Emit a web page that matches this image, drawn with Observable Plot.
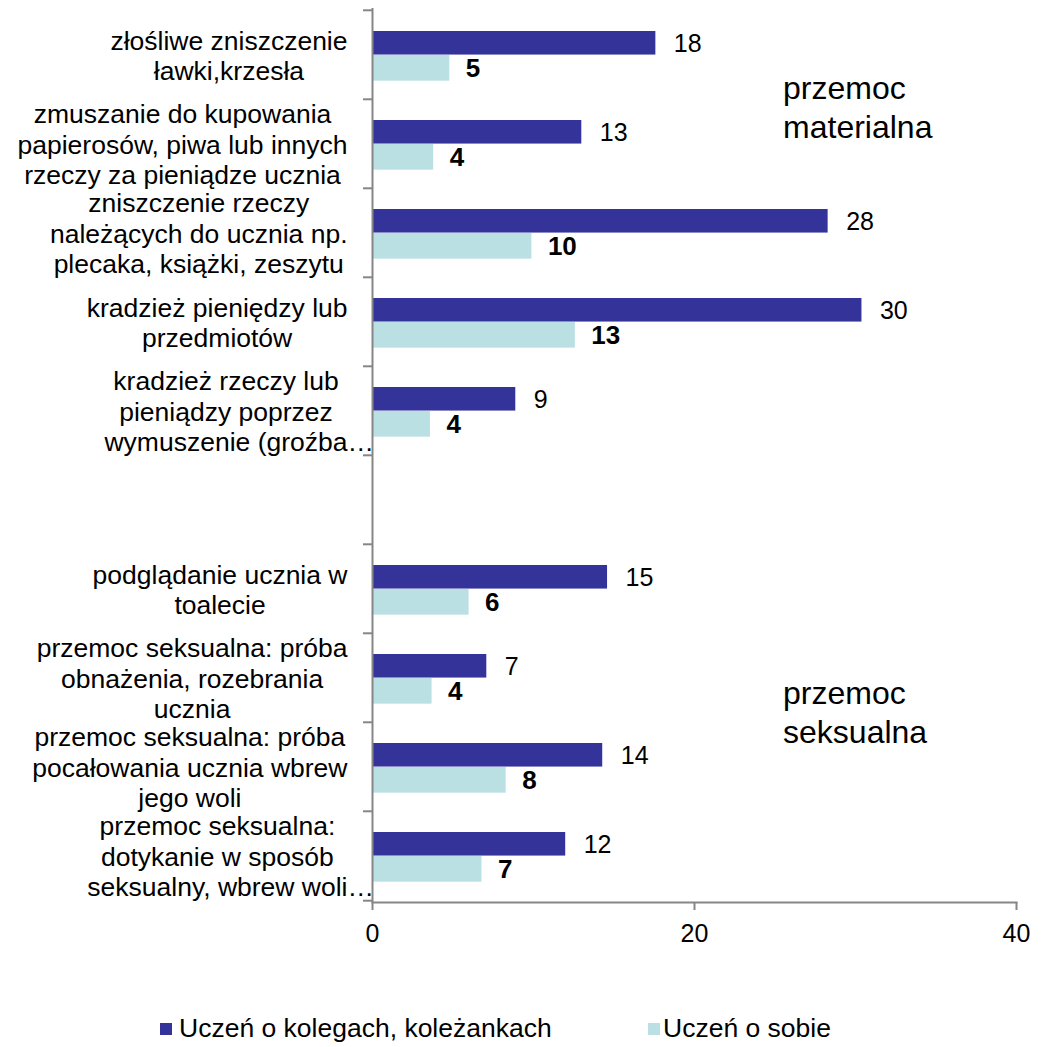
<!DOCTYPE html>
<html><head><meta charset="utf-8">
<script src="https://cdn.jsdelivr.net/npm/d3@7"></script>
<script src="https://cdn.jsdelivr.net/npm/@observablehq/plot@0.6"></script>
<style>
body{margin:0;background:#fff;font-family:"Liberation Sans",Arial,sans-serif;}
#wrap{position:relative;width:1048px;height:1047px;}
#legend{position:absolute;left:0;top:1013px;width:1048px;height:32px;font-size:26.5px;color:#000;}
.item{position:absolute;top:0;display:flex;align-items:center;white-space:nowrap;}
.sw{width:12px;height:12px;margin-right:7px;}
</style></head><body>
<div id="wrap"><div id="chart"></div><div id="legend"></div></div>
<script>
const categories = [
  "złośliwe zniszczenie\nławki,krzesła",
  "zmuszanie do kupowania\npapierosów, piwa lub innych\nrzeczy za pieniądze ucznia",
  "zniszczenie rzeczy\nnależących do ucznia np.\nplecaka, książki, zeszytu",
  "kradzież pieniędzy lub\nprzedmiotów",
  "kradzież rzeczy lub\npieniądzy poprzez\nwymuszenie (groźba…",
  " ",
  "podglądanie ucznia w\ntoalecie",
  "przemoc seksualna: próba\nobnażenia, rozebrania\nucznia",
  "przemoc seksualna: próba\npocałowania ucznia wbrew\njego woli",
  "przemoc seksualna:\ndotykanie w sposób\nseksualny, wbrew woli…"
];
const seriesNames = ["Uczeń o kolegach, koleżankach", "Uczeń o sobie"];
const colleagues = [17.6, 13.0, 28.3, 30.4, 8.9, null, 14.6, 7.1, 14.3, 12.0];
const self = [4.8, 3.8, 9.9, 12.6, 3.6, null, 6.0, 3.7, 8.3, 6.8];
const xTicks = [0, 20, 40];
const annotations = ["przemoc\nmaterialna", "przemoc\nseksualna"];
const annX = [25.5, 25.5];
const annY = [categories[1], categories[7]];
const colors = ["#333399", "#BBE0E3"];

const rows = [];
categories.forEach((c, i) => {
  if (colleagues[i] != null) rows.push({c, s: 0, v: colleagues[i]});
  if (self[i] != null) rows.push({c, s: 1, v: self[i]});
});
const dark = rows.filter(d => d.s === 0), light = rows.filter(d => d.s === 1);

const W = 1048, H = 980, mT = 8, mB = 78, mL = 372, mR = 32;
const bw = (H - mT - mB) / categories.length;
const axisColor = "#868686";
const fmt = d3.format(".0f");

const annMark = (i, dy) => Plot.text([annotations[i]], {
  x: () => annX[i], y: () => annY[i], text: d => d, textAnchor: "start",
  dy, fontSize: 32, lineHeight: 1.22, fill: "#000"
});

const chart = Plot.plot({
  width: W, height: H, marginTop: mT, marginBottom: mB, marginLeft: mL, marginRight: mR,
  style: {fontFamily: "'Liberation Sans', Arial, sans-serif", background: "#fff", color: "#000"},
  x: {domain: [0, 40]},
  y: {domain: categories, padding: 0},
  marks: [
    Plot.barX(dark, {x: "v", y: "c", fill: colors[0], insetTop: bw * 0.235, insetBottom: bw * 0.497}),
    Plot.barX(light, {x: "v", y: "c", fill: colors[1], insetTop: bw * 0.503, insetBottom: bw * 0.205}),
    Plot.text(dark, {x: "v", y: "c", text: d => fmt(d.v), dx: 18, dy: -11, textAnchor: "start", fontSize: 25, fill: "#000"}),
    Plot.text(light, {x: "v", y: "c", text: d => fmt(d.v), dx: 16, dy: 14, textAnchor: "start", fontSize: 26, fontWeight: "bold", fill: "#000"}),
    annMark(0, -38),
    annMark(1, 33),
    Plot.ruleX([0], {stroke: axisColor, strokeWidth: 2}),
    Plot.frame({anchor: "bottom", stroke: axisColor, strokeWidth: 2}),
    Plot.axisX({ticks: xTicks, tickSize: 8, stroke: axisColor, strokeWidth: 2, fill: "none", label: null}),
    Plot.axisX({ticks: xTicks, tickSize: 0, tickPadding: 22, fontSize: 25, fill: "#000", label: null}),
    Plot.axisY({ticks: categories, tickSize: 9, dy: -bw / 2, stroke: axisColor, strokeWidth: 2, fill: "none", label: null}),
    Plot.axisY({ticks: [categories[categories.length - 1]], tickSize: 9, dy: bw / 2, stroke: axisColor, strokeWidth: 2, fill: "none", label: null}),
    Plot.axisY({ticks: categories, tickSize: 0, tickPadding: 25, fontSize: 26.5, lineHeight: 1.15, fill: "#000", label: null})
  ]
});
document.getElementById("chart").appendChild(chart);

// center lines of each category label within its own block (block right-aligned at the axis);
// a trailing ellipsis is left to overflow, as in the original
d3.select(chart).selectAll('g[aria-label="y-axis tick label"] text').each(function() {
  const tspans = this.querySelectorAll("tspan");
  const parts = tspans.length ? Array.from(tspans) : [this];
  const widths = parts.map(p => {
    const s = p.textContent;
    if (s.endsWith("…") && s.length > 1) return p.getSubStringLength(0, s.length - 1);
    return p.getComputedTextLength();
  });
  const maxW = d3.max(widths);
  if (!maxW) return;
  const c = -maxW / 2;
  this.setAttribute("text-anchor", "start");
  parts.forEach((p, i) => p.setAttribute("x", c - widths[i] / 2));
});

const legend = d3.select("#legend");
const legX = [160, 648];
seriesNames.forEach((n, i) => {
  const it = legend.append("div").attr("class", "item").style("left", legX[i] + "px");
  it.append("div").attr("class", "sw").style("background", colors[i]).style("margin-right", i ? "3px" : "7px");
  it.append("span").text(n);
});
</script>
</body></html>
